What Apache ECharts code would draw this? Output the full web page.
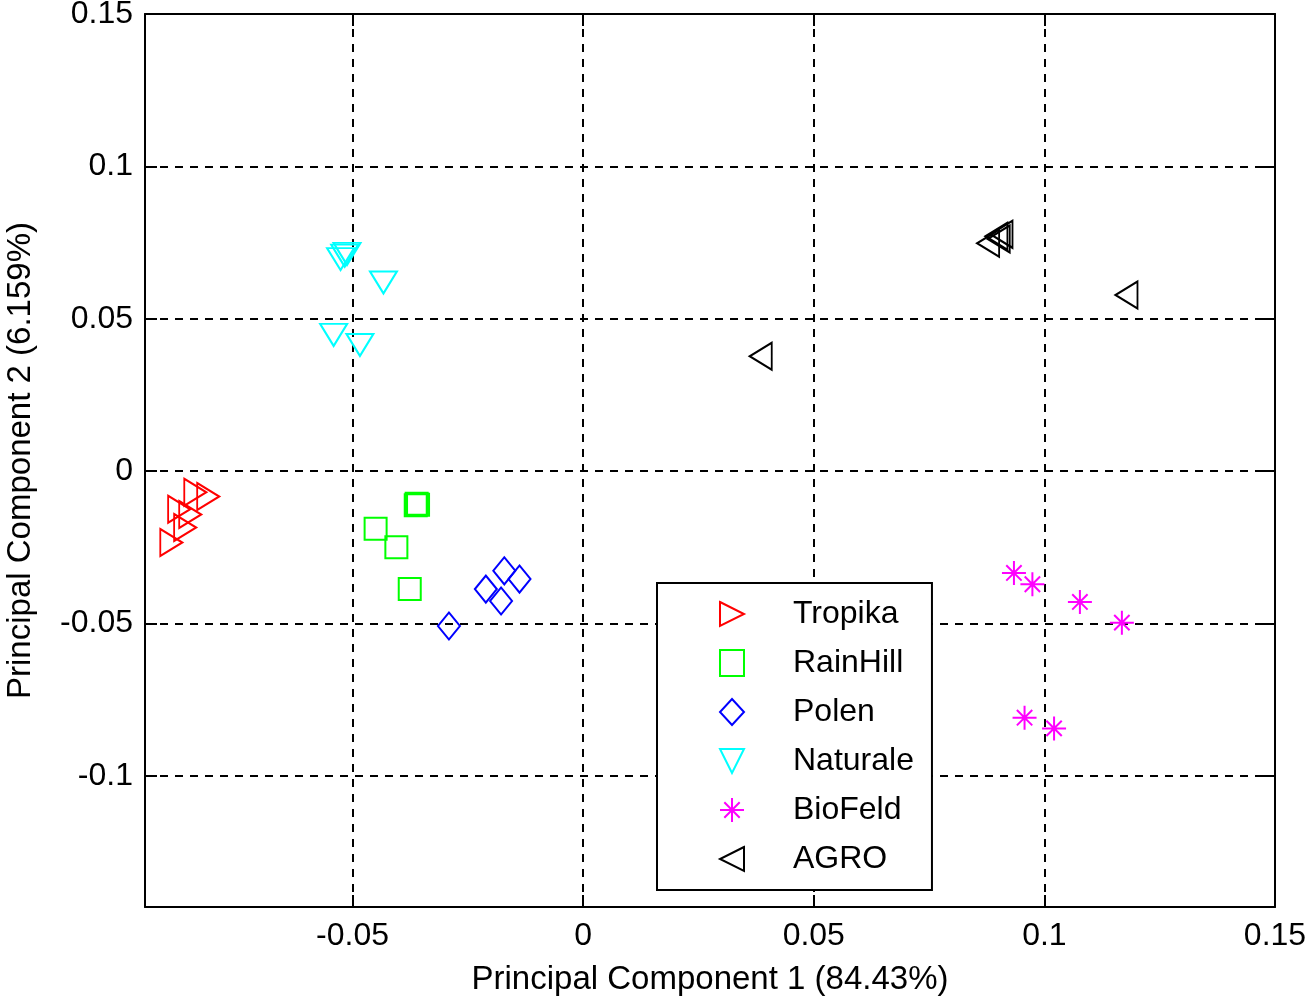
<!DOCTYPE html>
<html>
<head>
<meta charset="utf-8">
<title>PCA scores</title>
<script src="https://cdn.jsdelivr.net/npm/echarts@6/dist/echarts.min.js"></script>
<style>
  html, body { margin: 0; padding: 0; background: #fff; }
  #chart { width: 1306px; height: 1000px; }
</style>
</head>
<body>
<div id="chart"></div>
<script>
// tick positions of both axes
var xTicks = [-0.05, 0, 0.05, 0.1, 0.15];
var yTicks = [-0.1, -0.05, 0, 0.05, 0.1, 0.15];

// scores [PC1, PC2]
var tropika = [[-0.0813, -0.0083], [-0.0841, -0.0069], [-0.0876, -0.0125],
               [-0.0852, -0.0142], [-0.0863, -0.0185], [-0.0893, -0.0234]];
var rainHill = [[-0.0361, -0.0107], [-0.0358, -0.0110], [-0.0363, -0.0112],
                [-0.0450, -0.0189], [-0.0405, -0.0250], [-0.0376, -0.0387]];
var polen = [[-0.0291, -0.0508], [-0.0171, -0.0327], [-0.0138, -0.0354],
             [-0.0211, -0.0387], [-0.0178, -0.0426]];
var naturale = [[-0.0517, 0.0707], [-0.0526, 0.0696], [-0.0512, 0.0713],
                [-0.0433, 0.0619], [-0.0541, 0.0447], [-0.0484, 0.0414]];
var bioFeld = [[0.0934, -0.0334], [0.0974, -0.0371], [0.1077, -0.0429],
               [0.1168, -0.0497], [0.0957, -0.0809], [0.1021, -0.0844]];
var agro = [[0.0385, 0.0377], [0.1178, 0.0578], [0.0878, 0.0748],
            [0.0907, 0.0777], [0.0896, 0.0771], [0.0901, 0.0762]];

var FONT = 'Liberation Sans, Arial, sans-serif';

function fmt(v) {
    if (v === 0) return '0';
    return String(Math.round(v * 1000) / 1000);
}

function mk(name, data, color, symbol, size) {
    return {
        name: name,
        type: 'scatter',
        data: data,
        symbol: symbol,
        symbolSize: size,
        itemStyle: { color: 'transparent', borderColor: color, borderWidth: 2, opacity: 1 },
        emphasis: { disabled: true }
    };
}

var myChart = echarts.init(document.getElementById('chart'));

var boxAxis = {
    axisLine: { show: true, onZero: false, lineStyle: { color: '#000', width: 2 } },
    axisTick: { show: true, inside: true, length: 12, lineStyle: { color: '#000', width: 2 } },
    axisLabel: { show: false },
    splitLine: { show: false }
};

var option = {
    backgroundColor: '#fff',
    animation: false,
    grid: { left: 145, right: 31, top: 14, bottom: 93, containLabel: false, outerBoundsMode: 'none' },
    xAxis: [
        {
            type: 'value', min: -0.095, max: 0.15, position: 'bottom',
            name: 'Principal Component 1 (84.43%)', nameLocation: 'middle', nameGap: 56,
            nameTextStyle: { color: '#000', fontSize: 33, fontFamily: FONT },
            axisLine: boxAxis.axisLine,
            axisTick: { show: true, inside: true, length: 12, customValues: xTicks,
                        lineStyle: { color: '#000', width: 2 } },
            axisLabel: { show: true, customValues: xTicks, margin: 13, color: '#000',
                         fontSize: 32, fontFamily: FONT, formatter: fmt },
            splitLine: { show: true, lineStyle: { color: '#000', width: 2, type: [8, 7] } }
        },
        echarts.util.merge({
            type: 'value', min: -0.095, max: 0.15, position: 'top',
            axisTick: { customValues: xTicks }
        }, boxAxis)
    ],
    yAxis: [
        {
            type: 'value', min: -0.143, max: 0.15, position: 'left',
            name: 'Principal Component 2 (6.159%)', nameLocation: 'middle', nameGap: 108,
            nameRotate: 90,
            nameTextStyle: { color: '#000', fontSize: 33, fontFamily: FONT },
            axisLine: boxAxis.axisLine,
            axisTick: { show: true, inside: true, length: 12, customValues: yTicks,
                        lineStyle: { color: '#000', width: 2 } },
            axisLabel: { show: true, customValues: yTicks, margin: 12, color: '#000',
                         fontSize: 32, fontFamily: FONT, formatter: fmt },
            splitLine: { show: true, lineStyle: { color: '#000', width: 2, type: [8, 7] } }
        },
        echarts.util.merge({
            type: 'value', min: -0.143, max: 0.15, position: 'right',
            axisTick: { customValues: yTicks }
        }, boxAxis)
    ],
    legend: {
        orient: 'vertical',
        left: 657,
        top: 583,
        backgroundColor: '#fff',
        borderColor: '#000',
        borderWidth: 2,
        borderRadius: 0,
        padding: [15, 18, 15, 62],
        itemWidth: 24,
        itemHeight: 26,
        itemGap: 17,
        selectedMode: false,
        textStyle: { color: '#000', fontSize: 32, fontFamily: FONT, lineHeight: 30,
                     padding: [0, 0, 0, 44] }
    },
    series: [
        mk('Tropika', tropika, '#ff0000', 'path://M0,0L1,0.5L0,1Z', [22, 27]),
        mk('RainHill', rainHill, '#00ff00', 'rect', [22, 22]),
        mk('Polen', polen, '#0000ff', 'diamond', [22, 27]),
        mk('Naturale', naturale, '#00ffff', 'path://M0,0L1,0L0.5,1Z', [27, 22]),
        mk('BioFeld', bioFeld, '#ff00ff',
           'path://M0.5,0L0.5,1M0,0.5L1,0.5M0.18,0.18L0.82,0.82M0.82,0.18L0.18,0.82', [24, 24]),
        mk('AGRO', agro, '#000000', 'path://M1,0L0,0.5L1,1Z', [22, 27])
    ]
};

myChart.setOption(option);
</script>
</body>
</html>
